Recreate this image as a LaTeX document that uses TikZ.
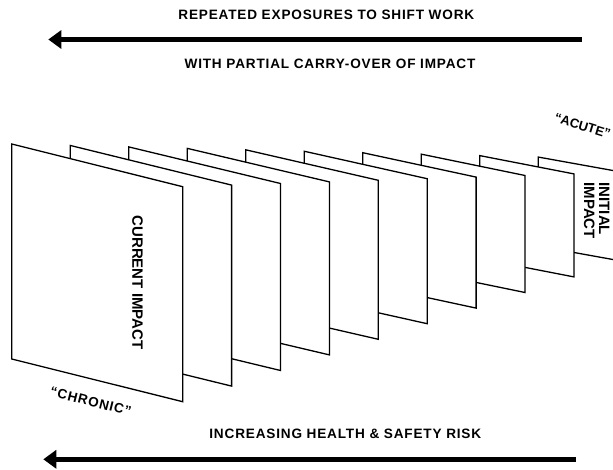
\documentclass[tikz,border=0pt]{standalone}
\usepackage{fontspec}
\setmainfont{Liberation Sans}
\newfontfamily\spacedfont{Liberation Sans}[LetterSpace=6.0]
\usepackage{tikz}
\usetikzlibrary{arrows.meta}

\begin{document}
\begin{tikzpicture}[x=1pt,y=-1pt,
    panel/.style={draw,fill=white,line width=1.3pt,line join=miter},
    caption/.style={font=\spacedfont\bfseries\fontsize{13.6}{15}\selectfont},
    sidelabel/.style={font=\bfseries\fontsize{15}{15}\selectfont,rotate=-90,align=left},
    quoted/.style={font=\bfseries\fontsize{13}{15}\selectfont},
    bigarrow/.style={line width=5.3pt,-{Triangle[length=13pt,width=18pt]}}]
  \useasboundingbox (0,0) rectangle (613,470);
  \clip (0,0) rectangle (613,470);
  \node[caption] (exposures) at (326.3,14.5) {REPEATED EXPOSURES TO SHIFT WORK};
  \coordinate (topR) at (581.7,39.5);
  \coordinate (topL) at (48.3,39.5);
  \draw[bigarrow] (topR) -- (topL);
  \node[caption] (carryover) at (330,63.8) {WITH PARTIAL CARRY-OVER OF IMPACT};
  \foreach \i in {9,8,...,0} {
    \pgfmathsetmacro{\xl}{11.7+58.5*\i}
    \pgfmathsetmacro{\xr}{182.7+48.9*\i}
    \pgfmathsetmacro{\yl}{144+1.45*\i}
    \pgfmathsetmacro{\yr}{186.7-1.6*\i}
    \pgfmathsetmacro{\ph}{215-14*\i}
    \draw[panel] (\xl,\yl) -- (\xr,\yr) -- (\xr,\yr+\ph) -- (\xl,\yl+\ph) -- cycle;
  }
  \node[sidelabel] (current) at (137.5,282.5) {CURRENT IMPACT};
  \node[sidelabel] (initial) at (596.7,210.8) {INITIAL\\IMPACT};
  \node[quoted,rotate=-17] (acute) at (582.5,125.8) {“ACUTE”};
  \node[quoted,font=\spacedfont\bfseries\fontsize{13.5}{15}\selectfont,rotate=-14] (chronic) at (90.7,401.5) {“CHRONIC”};
  \node[caption] (risk) at (345.3,434) {INCREASING HEALTH \& SAFETY RISK};
  \coordinate (botR) at (576,459.3);
  \coordinate (botL) at (43.3,459.3);
  \draw[bigarrow] (botR) -- (botL);
\end{tikzpicture}
\end{document}
